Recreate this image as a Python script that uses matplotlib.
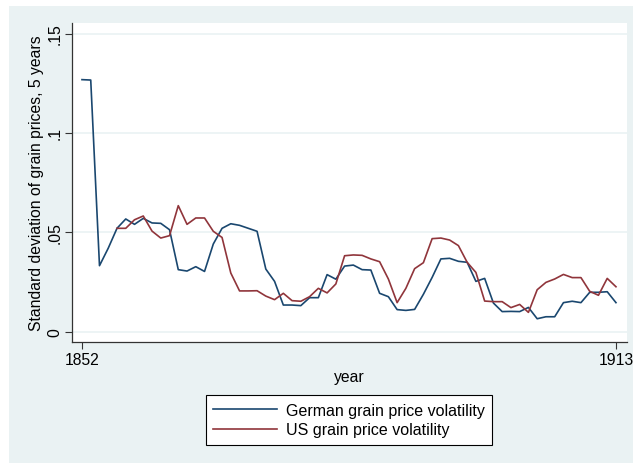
import matplotlib
matplotlib.use('Agg')
import matplotlib.pyplot as plt
from matplotlib.patches import Rectangle

plt.rcParams['font.family'] = ['Liberation Sans', 'DejaVu Sans']

# 5-year rolling standard deviation of grain prices
years = list(range(1852, 1914))
german = [0.1268, 0.1266, 0.0332, 0.0420, 0.0520, 0.0567, 0.0540, 0.0570,
          0.0547, 0.0545, 0.0513, 0.0312, 0.0305, 0.0327, 0.0303, 0.0441,
          0.0520, 0.0543, 0.0535, 0.0520, 0.0505, 0.0315, 0.0253, 0.0134,
          0.0134, 0.0131, 0.0171, 0.0171, 0.0287, 0.0264, 0.0330, 0.0335,
          0.0312, 0.0310, 0.0193, 0.0176, 0.0111, 0.0107, 0.0112, 0.0188,
          0.0273, 0.0366, 0.0369, 0.0354, 0.0349, 0.0253, 0.0268, 0.0144,
          0.0101, 0.0102, 0.0101, 0.0122, 0.0065, 0.0075, 0.0075, 0.0146,
          0.0153, 0.0146, 0.0198, 0.0198, 0.0201, 0.0146]
us_years = years[4:]
us = [0.0520, 0.0520, 0.0563, 0.0582, 0.0506, 0.0471, 0.0483, 0.0634,
      0.0540, 0.0572, 0.0572, 0.0505, 0.0474, 0.0295, 0.0205, 0.0205,
      0.0206, 0.0179, 0.0161, 0.0193, 0.0156, 0.0153, 0.0176, 0.0218,
      0.0195, 0.0240, 0.0382, 0.0386, 0.0384, 0.0366, 0.0352, 0.0265,
      0.0146, 0.0218, 0.0317, 0.0347, 0.0468, 0.0471, 0.0461, 0.0433,
      0.0349, 0.0298, 0.0154, 0.0151, 0.0151, 0.0121, 0.0137, 0.0097,
      0.0211, 0.0248, 0.0265, 0.0288, 0.0272, 0.0272, 0.0203, 0.0183,
      0.0268, 0.0226]

yticks = [0, 0.05, 0.1, 0.15]
ytick_labels = ['0', '.05', '.1', '.15']
xticks = [1852, 1913]

W, H = 633, 464
bg = '#EAF2F3'
navy = '#1A476F'
maroon = '#90353B'

fig = plt.figure(figsize=(W / 100, H / 100), dpi=100)
fig.patch.set_facecolor('white')
fig.patches.append(Rectangle((9 / W, 0), 1 - 9 / W, 1 - 7 / H,
                             transform=fig.transFigure, facecolor=bg,
                             edgecolor='none', zorder=-1))

ax = fig.add_axes([72 / W, 1 - 343 / H, 555 / W, 319 / H])
ax.set_facecolor('white')
ax.plot(years, german, color=navy, lw=1.2, label='German grain price volatility')
ax.plot(us_years, us, color=maroon, lw=1.2, label='US grain price volatility')

ax.set_xlim(1850.86, 1914.26)
ax.set_ylim(-0.0052, 0.1553)
ax.set_yticks(yticks)
ax.set_yticklabels(ytick_labels, rotation=90, va='center', fontsize=11.3)
ax.set_xticks(xticks)
ax.set_xticklabels([str(x) for x in xticks], fontsize=11.3)
ax.grid(axis='y', color=bg, lw=1.2)
ax.set_axisbelow(True)

for s in ('top', 'right'):
    ax.spines[s].set_visible(False)
for s in ('left', 'bottom'):
    ax.spines[s].set_color('#333333')
    ax.spines[s].set_linewidth(0.9)
ax.tick_params(length=5, width=0.8, color='#333333', pad=2)

ax.set_xlabel('year', fontsize=11.3, labelpad=1.5)
ax.set_ylabel('Standard deviation of grain prices, 5 years', fontsize=11.3,
              labelpad=2)

leg = fig.legend(loc='center', bbox_to_anchor=(349 / W, 1 - 421 / H),
                 fontsize=11.5, frameon=True, fancybox=False,
                 handlelength=4.0, handletextpad=0.6, borderpad=0.45,
                 labelspacing=0.3, borderaxespad=0)
leg.get_frame().set_edgecolor('black')
leg.get_frame().set_linewidth(0.8)
leg.get_frame().set_facecolor('white')
leg.get_frame().set_alpha(1)

fig.savefig('out.png', dpi=100, facecolor=fig.get_facecolor())
